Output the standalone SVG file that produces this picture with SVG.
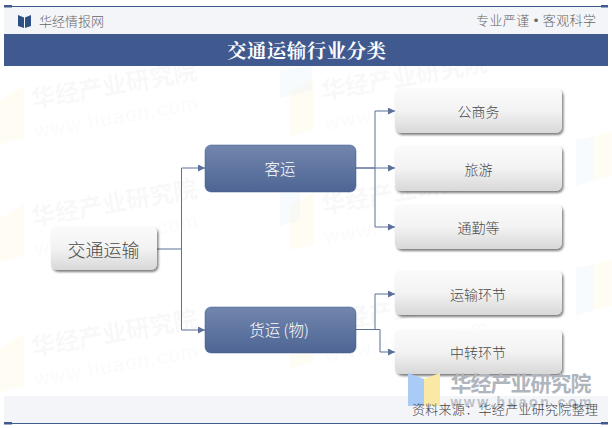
<svg xmlns="http://www.w3.org/2000/svg" width="612" height="428" viewBox="0 0 612 428">
<style>
text{font-family:"Noto Sans CJK SC","Liberation Sans",sans-serif;text-anchor:middle;font-weight:300}
.lt{fill:#4a4a4a;font-size:14px}
.wh{fill:#fff;font-size:15.5px}
.light{fill:url(#lg);filter:url(#sh)}
.dark{fill:url(#dg);stroke:#3f5a8f;stroke-width:.5}
.c{fill:none;stroke:#5c7099;stroke-width:1;marker-end:url(#ah)}
.wm1{fill:#8a94a8;opacity:.055;font-size:24px;font-weight:700;text-anchor:start}
.wm2{fill:#8a94a8;opacity:.04;font-size:20px;text-anchor:start;font-family:"Liberation Sans",sans-serif}
.by{fill:#ffe9a8;opacity:.12}
.bb{fill:#b9d3f5;opacity:.1}
</style>
<defs>
<linearGradient id="lg" x1="0" y1="0" x2="0" y2="1"><stop offset="0" stop-color="#fbfbfb"/><stop offset=".5" stop-color="#f3f3f3"/><stop offset="1" stop-color="#d8d8d8"/></linearGradient>
<linearGradient id="dg" x1="0" y1="0" x2="0" y2="1"><stop offset="0" stop-color="#7286ad"/><stop offset="1" stop-color="#4e6594"/></linearGradient>
<filter id="sh" x="-10%" y="-15%" width="120%" height="135%"><feDropShadow dx="1.5" dy="2" stdDeviation="1.3" flood-color="#000" flood-opacity=".5"/></filter>
<marker id="ah" markerWidth="8" markerHeight="8" refX="7" refY="3.5" orient="auto" markerUnits="userSpaceOnUse"><path d="M0 0L7 3.5L0 7z" fill="#5c7099"/></marker>
<g id="wm">
<path class="by" d="M0 -8L24 -22V30L0 36z"/>
<text class="wm1" x="33" y="0" transform="rotate(-10 33 0)" textLength="168">华经产业研究院</text>
<text class="wm2" x="36" y="30" transform="rotate(-10 36 30)" textLength="165">www.huaon.com</text>
</g>
</defs>
<rect width="612" height="428" fill="#fff"/>
<g id="watermarks">
<use href="#wm" y="108"/><use href="#wm" y="226"/><use href="#wm" y="356"/>
<use href="#wm" x="290" y="100"/><use href="#wm" x="290" y="214"/><use href="#wm" x="290" y="332"/>
<path class="bb" d="M280 70L312 66V90L280 98z"/><path class="bb" d="M280 192L300 188V220L280 226z"/>
<path class="bb" d="M576 140L594 136V180L576 186z"/><path class="bb" d="M576 268L594 264V310L576 316z"/>
<path class="by" d="M594 136L612 132V176L594 180z"/><path class="by" d="M594 264L612 260V306L594 310z"/>
</g>
<g id="header">
<rect x="4" y="6" width="604" height="28" fill="#f3f5f9"/>
<rect x="4" y="6" width="604" height="1" fill="#3f5a8f"/>
<rect x="4" y="5" width="8" height="2.5" fill="#3f5a8f"/><rect x="601" y="5" width="7" height="2.5" fill="#3f5a8f"/>
<path d="M18 15L24 17.5V28L18 26zM31 15L25 17.5V28L31 26z" fill="#2e4f84"/>
<text x="71.5" y="26" style="font-size:13px;fill:#666" textLength="65">华经情报网</text>
<text x="536" y="25" style="font-size:13px;fill:#666;font-family:'Liberation Sans','Noto Sans CJK SC',sans-serif" textLength="120">专业严谨 • 客观科学</text>
<rect x="4" y="34" width="604" height="32" fill="#405a8f"/>
<text x="306.5" y="58" style="font-size:19.5px;fill:#fff;font-family:'Noto Serif CJK SC','Noto Sans CJK SC',serif;font-weight:700" textLength="159">交通运输行业分类</text>
</g>
<g id="connectors">
<path class="c" d="M157 249H181.500V168H205"/>
<path class="c" d="M181.500 249V330H205"/>
<path class="c" d="M356 168H375V111H395"/>
<path class="c" d="M356 168H395"/>
<path class="c" d="M375 168V227H395"/>
<path class="c" d="M356 329.500H375V294H395"/>
<path class="c" d="M356 329.500H380V352H395"/>
</g>
<g id="n-root"><rect class="light" x="51" y="226" width="106" height="44" rx="6"/><text class="lt" x="103.500" y="257" style="font-size:18px">交通运输</text></g>
<g id="n-ke"><rect class="dark" x="205" y="145" width="151" height="47" rx="6"/><text class="wh" x="280" y="175">客运</text></g>
<g id="n-huo"><rect class="dark" x="205" y="307" width="151" height="46" rx="6"/><text class="wh" x="279" y="336">货运 (物)</text></g>
<g id="n-gong"><rect class="light" x="395" y="88" width="167" height="45" rx="6"/><text class="lt" x="478.500" y="117">公商务</text></g>
<g id="n-lv"><rect class="light" x="395" y="145" width="167" height="46" rx="6"/><text class="lt" x="478.500" y="175">旅游</text></g>
<g id="n-tong"><rect class="light" x="395" y="204" width="167" height="45" rx="6"/><text class="lt" x="478.500" y="233">通勤等</text></g>
<g id="n-yun"><rect class="light" x="395" y="270" width="167" height="45" rx="6"/><text class="lt" x="478" y="300">运输环节</text></g>
<g id="n-zhong"><rect class="light" x="395" y="329" width="167" height="45" rx="6"/><text class="lt" x="478" y="358">中转环节</text></g>
<g id="footer">
<rect x="4" y="396" width="604" height="27" fill="#f3f5f9"/>
<rect x="4" y="423" width="604" height="1" fill="#3f5a8f"/>
<rect x="4" y="422" width="8" height="2.5" fill="#3f5a8f"/><rect x="601" y="422" width="7" height="2.5" fill="#3f5a8f"/>
<path d="M408 373L424 379V406H408z" fill="#a8ccf5"/>
<path d="M424 379L440 373V406H424z" fill="#fae9a5"/>
<text x="521" y="391" style="font-size:21px;font-weight:700;fill:#b0b5bd" textLength="141">华经产业研究院</text>
<text x="521" y="407" style="font-size:14px;font-weight:700;fill:#bbc0c8;font-family:'Liberation Sans',sans-serif" textLength="141">www.huaon.com</text>
<text x="505" y="414" style="font-size:13px;fill:#444" textLength="186">资料来源：华经产业研究院整理</text>
</g>
</svg>
